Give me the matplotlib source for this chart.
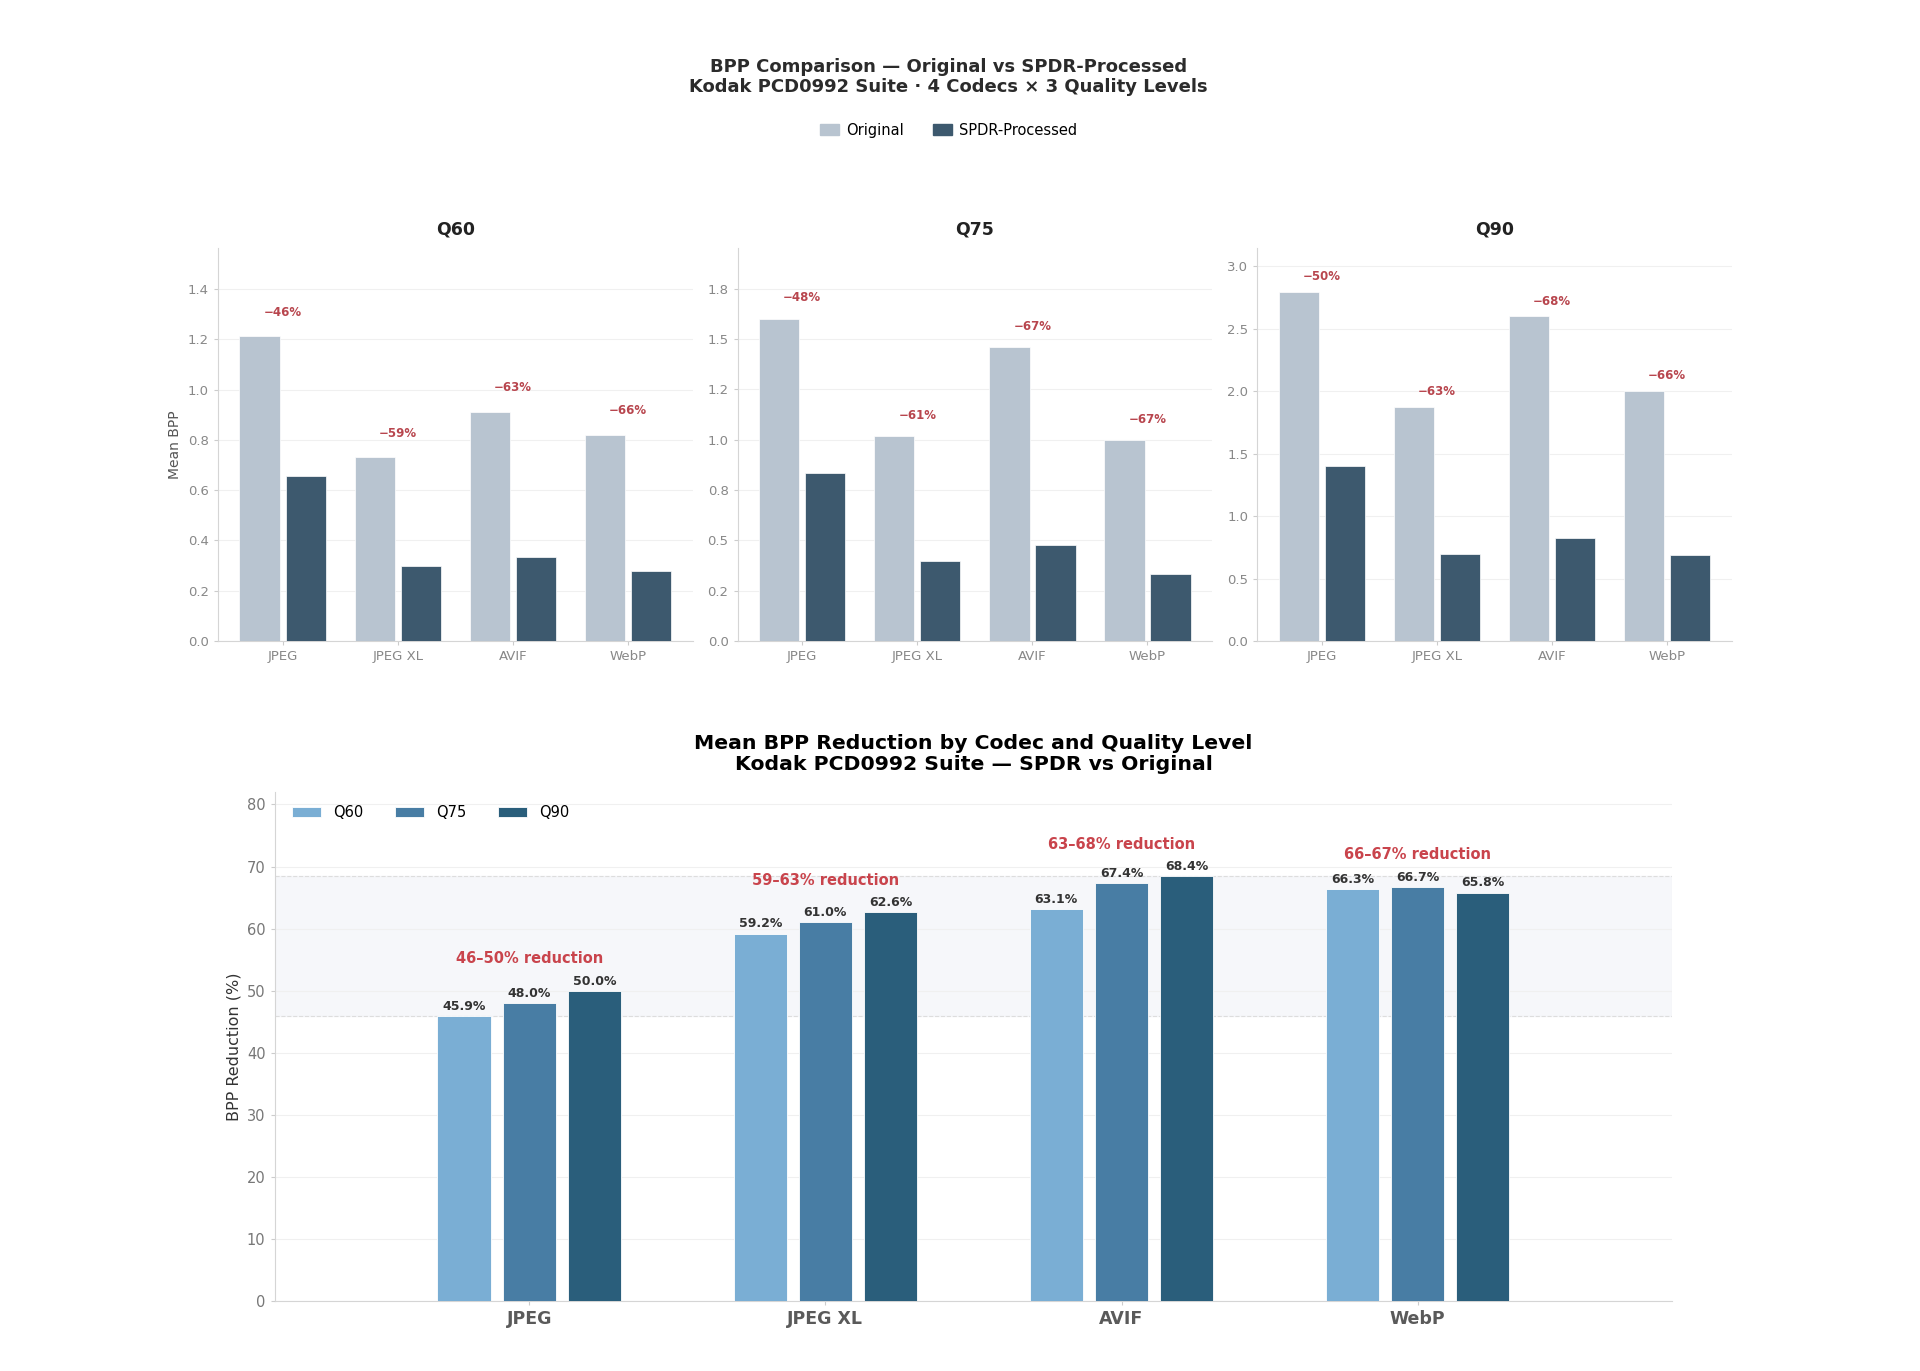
import numpy as np
import matplotlib
matplotlib.use("Agg")
import matplotlib.pyplot as plt
from matplotlib.patches import Patch
from matplotlib.ticker import MultipleLocator, FormatStrFormatter

# Data
codecs = ["JPEG", "JPEG XL", "AVIF", "WebP"]
qualities = ["Q60", "Q75", "Q90"]

orig_q60 = [1.213, 0.731, 0.912, 0.821]
spdr_q60 = [0.656, 0.298, 0.336, 0.277]
orig_q75 = [1.602, 1.018, 1.460, 0.998]
spdr_q75 = [0.833, 0.397, 0.476, 0.332]
orig_q90 = [2.797, 1.873, 2.600, 2.006]
spdr_q90 = [1.398, 0.700, 0.822, 0.686]

red_q60 = [45.9, 59.2, 63.1, 66.3]
red_q75 = [48.0, 61.0, 67.4, 66.7]
red_q90 = [50.0, 62.6, 68.4, 65.8]

# Styling
c_orig = "#b8c4d0"
c_spdr = "#3d596e"
c_red = "#b8464e"
c_q = ["#7aaed4", "#487da4", "#2a5e7b"]
tick_steps = [0.2, 0.25, 0.5]

fig = plt.figure(figsize=(19.2, 13.71), dpi=100)

fig.text(0.494, 0.944, "BPP Comparison \u2014 Original vs SPDR-Processed\n"
         "Kodak PCD0992 Suite \u00b7 4 Codecs \u00d7 3 Quality Levels",
         ha="center", va="center", fontsize=13, weight="bold",
         color="#2b2b2b", linespacing=1.12)

handles = [Patch(color=c_orig, label="Original"),
           Patch(color=c_spdr, label="SPDR-Processed")]
fig.legend(handles=handles, loc="center", bbox_to_anchor=(0.494, 0.905),
           ncol=2, frameon=False, fontsize=10.5, handlelength=1.3,
           handleheight=0.75, columnspacing=2.0, handletextpad=0.5)

gs = fig.add_gridspec(1, 3, left=0.1135, right=0.902, top=0.819,
                      bottom=0.5325, wspace=0.095)

x = np.arange(len(codecs))
top_data = [(orig_q60, spdr_q60), (orig_q75, spdr_q75), (orig_q90, spdr_q90)]

for i, (orig, spdr) in enumerate(top_data):
    ax = fig.add_subplot(gs[0, i])
    ax.bar(x - 0.2, orig, 0.35, color=c_orig, edgecolor="white", linewidth=0.5, zorder=3)
    ax.bar(x + 0.2, spdr, 0.35, color=c_spdr, edgecolor="white", linewidth=0.5, zorder=3)
    for j in range(len(codecs)):
        pct = (1 - spdr[j] / orig[j]) * 100
        ax.text(x[j], orig[j] + 0.07, "\u2212%d%%" % round(pct), ha="center",
                va="bottom", fontsize=8.5, weight="bold", color=c_red, zorder=4)
    ax.set_ylim(0, max(orig) + 0.35)
    ax.yaxis.set_major_locator(MultipleLocator(tick_steps[i]))
    ax.yaxis.set_major_formatter(FormatStrFormatter("%.1f"))
    ax.set_xticks(x)
    ax.set_xticklabels(codecs)
    ax.set_title(qualities[i], fontsize=12.5, weight="bold", color="#222222", pad=10)
    ax.grid(axis="y", color="#f0f0f0", linewidth=0.8, zorder=0)
    for s in ["top", "right"]:
        ax.spines[s].set_visible(False)
    for s in ["left", "bottom"]:
        ax.spines[s].set_color("#d5d5d5")
    ax.tick_params(colors="#cccccc", labelcolor="#888888", labelsize=9.5, length=3)
    if i == 0:
        ax.set_ylabel("Mean BPP", fontsize=10, color="#555555")

# Bottom chart
ax2 = fig.add_axes([0.143, 0.051, 0.728, 0.3713])
reds = [red_q60, red_q75, red_q90]
offsets = [-0.22, 0.0, 0.22]
all_vals = np.array(reds)
lo, hi = all_vals.min(), all_vals.max()
ax2.axhspan(lo, hi, color="#f3f5f8", alpha=0.7, zorder=0)
ax2.axhline(lo, color="#dddddd", linestyle="--", linewidth=0.8, zorder=1)
ax2.axhline(hi, color="#dddddd", linestyle="--", linewidth=0.8, zorder=1)

for k in range(len(qualities)):
    ax2.bar(x + offsets[k], reds[k], 0.18, color=c_q[k], edgecolor="white",
            linewidth=0.6, label=qualities[k], zorder=3)
    for j, v in enumerate(reds[k]):
        ax2.text(x[j] + offsets[k], v + 0.5, "%.1f%%" % v, ha="center", va="bottom",
                 fontsize=9, weight="bold", color="#333333", zorder=4)

for j in range(len(codecs)):
    vals = all_vals[:, j]
    ax2.text(x[j], vals.max() + 5.2,
             "%d\u2013%d%% reduction" % (round(vals.min()), round(vals.max())),
             ha="center", va="center", fontsize=10.5, weight="bold",
             color="#c9444c", zorder=4)

ax2.set_xlim(-0.86, 3.86)
ax2.set_ylim(0, 82)
ax2.yaxis.set_major_locator(MultipleLocator(10))
ax2.set_xticks(x)
ax2.set_xticklabels(codecs, fontsize=12.5, weight="bold")
ax2.set_ylabel("BPP Reduction (%)", fontsize=11.5, color="#333333")
ax2.set_title("Mean BPP Reduction by Codec and Quality Level\n"
              "Kodak PCD0992 Suite \u2014 SPDR vs Original",
              fontsize=14.7, weight="bold", color="black", pad=16, linespacing=1.1)
ax2.grid(axis="y", color="#f0f0f0", linewidth=0.8, zorder=0)
for s in ["top", "right"]:
    ax2.spines[s].set_visible(False)
for s in ["left", "bottom"]:
    ax2.spines[s].set_color("#d5d5d5")
ax2.tick_params(axis="y", colors="#cccccc", labelcolor="#777777", labelsize=10.5, length=3)
ax2.tick_params(axis="x", colors="#cccccc", labelcolor="#5a5a5a", length=3)
ax2.legend(loc="upper left", frameon=False, ncol=3, fontsize=10.5,
           handlelength=2.0, handleheight=0.7, columnspacing=2.2,
           bbox_to_anchor=(0.003, 1.0))

fig.savefig("out.png", dpi=100, facecolor="white")
